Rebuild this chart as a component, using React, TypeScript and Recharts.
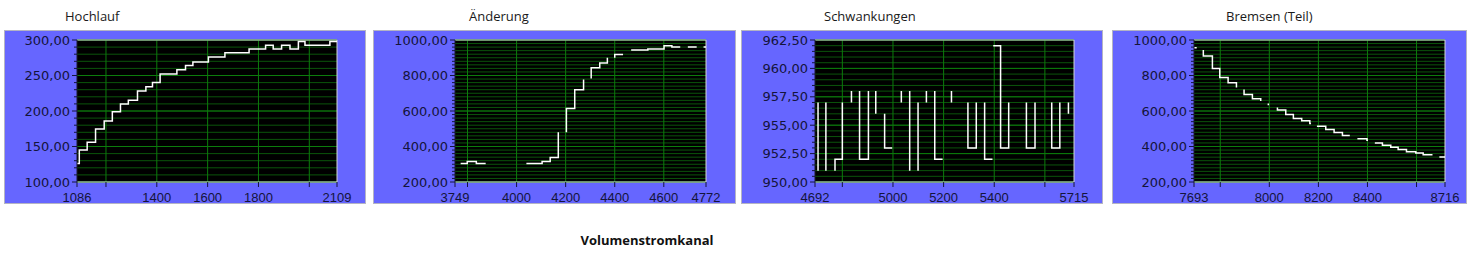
import { LineChart, Line, XAxis, YAxis, CartesianGrid, ReferenceLine } from 'recharts'

type Pair = [number, number | null]

// step data (x = sample, y = Volumenstrom)
const hochlauf: Pair[] = [
  [1086, 126], [1095, 145], [1126, 156], [1159, 174.5], [1193, 186], [1225, 199],
  [1257, 210], [1288, 215], [1324, 228], [1357, 234], [1383, 240], [1413, 252],
  [1479, 258], [1513, 264], [1542, 269], [1603, 276], [1668, 282], [1763, 287.5],
  [1828, 292.5], [1858, 287.5], [1891, 292.5], [1924, 287.5], [1957, 298],
  [1983, 292.5], [2081, 298], [2109, 298],
]

const aenderung: Pair[] = [
  [3772, 304], [3799, 315], [3836, 304], [3874, 304], [3874, null],
  [4040, 304], [4104, 315], [4137, 338], [4170, 480], [4170, null],
  [4203, 480], [4203, 614], [4237, 720], [4273, 777], [4273, null],
  [4304, 783], [4304, 843], [4339, 871], [4370, 900], [4370, null],
  [4400, 900], [4400, 919], [4434, 919], [4434, null],
  [4467, 943], [4535, 949], [4601, 968], [4633, 960], [4667, 960], [4667, null],
  [4698, 960], [4734, 960], [4734, null],
  [4762, 960], [4772, 960],
]

const schwankungen: Pair[] = [
  [4704, 957], [4704, 951], [4704, null],
  [4735, 957], [4735, 951], [4735, null],
  [4771, 951], [4771, 952], [4800, 957], [4800, null],
  [4836, 958], [4836, 957], [4836, null],
  [4868, 958], [4868, 952], [4903, 958], [4903, null],
  [4932, 958], [4932, 956], [4932, null],
  [4967, 956], [4967, 953], [4997, 953], [4997, null],
  [5033, 958], [5033, 957], [5033, null],
  [5066, 958], [5066, 951], [5066, null],
  [5099, 957], [5099, 951], [5099, null],
  [5132, 958], [5132, 957], [5132, null],
  [5165, 958], [5165, 952], [5196, 952], [5196, null],
  [5231, 958], [5231, 957], [5231, null],
  [5296, 957], [5296, 953], [5329, 957], [5329, null],
  [5362, 957], [5362, 952], [5393, 952], [5393, null],
  [5396, 962], [5425, 953], [5457, 957], [5457, null],
  [5527, 957], [5527, 953], [5561, 957], [5561, null],
  [5627, 957], [5627, 953], [5659, 957], [5659, null],
  [5693, 957], [5693, 956],
]

const bremsen: Pair[] = [
  [7693, 957], [7704, 957], [7704, null],
  [7731, 944], [7731, 910], [7768, 840], [7798, 789], [7832, 759], [7866, 733], [7866, null],
  [7897, 721], [7897, 693], [7931, 669], [7965, 656], [7965, null],
  [7996, 642], [7996, 633], [7996, null],
  [8033, 620], [8033, 605], [8067, 580], [8098, 558], [8132, 545], [8165, 530], [8170, 530], [8170, null],
  [8194, 514], [8230, 496], [8264, 479], [8298, 462], [8328, 462], [8328, null],
  [8359, 443], [8398, 435], [8402, 435], [8402, null],
  [8430, 420], [8461, 407], [8495, 396], [8525, 383], [8559, 371], [8597, 364],
  [8627, 354], [8665, 354], [8665, null],
  [8693, 341], [8716, 341],
]

const hochlaufTicks = [1086, 1200, 1400, 1600, 1800, 2000, 2109]
const hochlaufLabels = [1086, 1400, 1600, 1800, 2109]
const aenderungTicks = [3749, 3800, 4000, 4200, 4400, 4600, 4772]
const aenderungLabels = [3749, 4000, 4200, 4400, 4600, 4772]
const schwankungenTicks = [4692, 4800, 5000, 5200, 5400, 5600, 5715]
const schwankungenLabels = [4692, 5000, 5200, 5400, 5715]
const bremsenTicks = [7693, 7800, 8000, 8200, 8400, 8600, 8716]
const bremsenLabels = [7693, 8000, 8200, 8400, 8716]

const BOX_TOP = 30
const BOX_H = 174
const PLOT_TOP = 40
const PLOT_BOTTOM = 182
const MAJOR = '#0c7c0c'
const MINOR = '#0b540b'
const FRAME = '#d4d4d4'
const INK = '#14143c'
const Y_FONT = "'DejaVu Sans', sans-serif"
const X_FONT = "'Liberation Sans', Arial, sans-serif"
const TITLE_FONT = "'Open Sans', 'Noto Sans', sans-serif"

type PanelCfg = {
  title: string
  titleX: number
  left: number
  width: number
  plotLeft: number
  plotRight: number
  data: Pair[]
  xTicks: number[]
  xLabels: number[]
  yDomain: [number, number]
  yMajor: number
  yMinor: number
}

const panels: PanelCfg[] = [
  { title: 'Hochlauf', titleX: 65, left: 4, width: 362, plotLeft: 77, plotRight: 337, data: hochlauf, xTicks: hochlaufTicks, xLabels: hochlaufLabels, yDomain: [100, 300], yMajor: 50, yMinor: 10 },
  { title: 'Änderung', titleX: 469, left: 373, width: 363, plotLeft: 455, plotRight: 706, data: aenderung, xTicks: aenderungTicks, xLabels: aenderungLabels, yDomain: [200, 1000], yMajor: 200, yMinor: 20 },
  { title: 'Schwankungen', titleX: 824, left: 741, width: 362, plotLeft: 815, plotRight: 1074, data: schwankungen, xTicks: schwankungenTicks, xLabels: schwankungenLabels, yDomain: [950, 962.5], yMajor: 2.5, yMinor: 0.5 },
  { title: 'Bremsen (Teil)', titleX: 1226, left: 1112, width: 355, plotLeft: 1194, plotRight: 1445, data: bremsen, xTicks: bremsenTicks, xLabels: bremsenLabels, yDomain: [200, 1000], yMajor: 200, yMinor: 20 },
]

function steps(from: number, to: number, step: number): number[] {
  const out: number[] = []
  for (let v = from; v <= to + 1e-9; v += step) out.push(Math.round(v * 100) / 100)
  return out
}

const fmt = (v: number) => v.toFixed(2).replace('.', ',')
const has = (list: number[], v: number) => list.some((m) => Math.abs(m - v) < 1e-6)

function Panel({ cfg }: { cfg: PanelCfg }) {
  const rows = cfg.data.map(([x, y]) => ({ x, y }))
  const xDomain: [number, number] = [cfg.xTicks[0], cfg.xTicks[cfg.xTicks.length - 1]]
  const yTicks = steps(cfg.yDomain[0], cfg.yDomain[1], cfg.yMinor)
  const yMajors = steps(cfg.yDomain[0], cfg.yDomain[1], cfg.yMajor)
  const xGrid = cfg.xTicks.slice(1, -1)

  return (
    <div
      style={{
        position: 'absolute',
        left: cfg.left,
        top: BOX_TOP,
        width: cfg.width,
        height: BOX_H,
        background: '#6666ff',
        boxShadow: 'inset 0 0 0 1px #b4b4c4',
      }}
    >
      <LineChart
        width={cfg.width}
        height={BOX_H}
        data={rows}
        margin={{ top: PLOT_TOP - BOX_TOP, right: cfg.left + cfg.width - cfg.plotRight, bottom: 0, left: 0 }}
      >
        <CartesianGrid fill="#000" stroke={MINOR} vertical={false} />
        {yMajors.map((v) => (
          <ReferenceLine key={'y' + v} y={v} stroke={MAJOR} />
        ))}
        {xGrid.map((v) => (
          <ReferenceLine key={'x' + v} x={v} stroke={MAJOR} />
        ))}
        <ReferenceLine y={cfg.yDomain[1]} stroke={FRAME} />
        <ReferenceLine x={xDomain[1]} stroke={FRAME} />
        <XAxis
          dataKey="x"
          type="number"
          domain={xDomain}
          ticks={cfg.xTicks}
          interval={0}
          allowDataOverflow
          height={BOX_TOP + BOX_H - PLOT_BOTTOM}
          tickSize={0}
          tickMargin={0}
          tickLine={false}
          axisLine={{ stroke: FRAME }}
          tick={(p: any) => (
            <g>
              <line x1={p.x} x2={p.x} y1={p.y} y2={p.y + 5} stroke={INK} />
              {has(cfg.xLabels, p.payload.value) && (
                <text x={p.x} y={p.y + 20} textAnchor="middle" fontSize={13} fontFamily={X_FONT} fill={INK}>
                  {p.payload.value}
                </text>
              )}
            </g>
          )}
        />
        <YAxis
          type="number"
          domain={cfg.yDomain}
          ticks={yTicks}
          interval={0}
          allowDataOverflow
          width={cfg.plotLeft - cfg.left}
          tickSize={0}
          tickMargin={0}
          tickLine={false}
          axisLine={{ stroke: '#1c1c2c' }}
          tick={(p: any) => {
            const major = has(yMajors, p.payload.value)
            return (
              <g>
                <line x1={p.x - (major ? 5 : 3)} x2={p.x} y1={p.y} y2={p.y} stroke={INK} />
                {major && (
                  <text x={p.x - 7} y={p.y} dy="0.36em" textAnchor="end" fontSize={13} fontFamily={Y_FONT} fill={INK}>
                    {fmt(p.payload.value)}
                  </text>
                )}
              </g>
            )
          }}
        />
        <Line
          type="stepAfter"
          dataKey="y"
          stroke="#ffffff"
          strokeWidth={1.5}
          dot={false}
          connectNulls={false}
          isAnimationActive={false}
        />
      </LineChart>
    </div>
  )
}

export default function App() {
  return (
    <div style={{ position: 'relative', width: 1473, height: 265, background: '#fff', overflow: 'hidden' }}>
      <style>{'body{margin:0}'}</style>
      {panels.map((cfg) => (
        <Panel key={cfg.title} cfg={cfg} />
      ))}
      <svg width={1473} height={265} style={{ position: 'absolute', left: 0, top: 0, pointerEvents: 'none' }}>
        {panels.map((cfg) => (
          <text key={cfg.title} x={cfg.titleX} y={21} fontSize={13} fontFamily={TITLE_FONT} fill="#1a1a1a">
            {cfg.title}
          </text>
        ))}
        <text x={647} y={245} textAnchor="middle" fontSize={13} fontWeight="bold" fontFamily={TITLE_FONT} fill="#111">
          Volumenstromkanal
        </text>
      </svg>
    </div>
  )
}
